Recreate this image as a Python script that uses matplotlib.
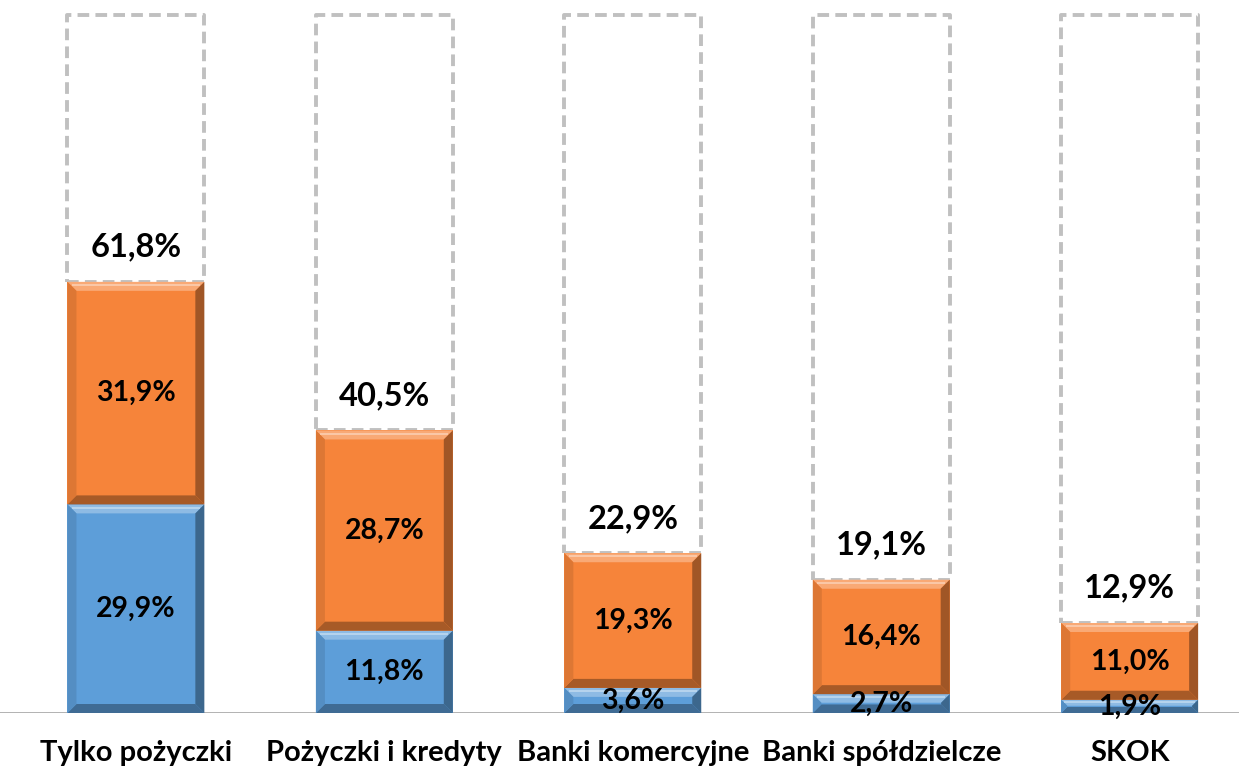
import matplotlib
matplotlib.use("Agg")
import matplotlib.pyplot as plt
from matplotlib.patches import Polygon
import numpy as np

categories = ["Tylko pożyczki", "Pożyczki i kredyty", "Banki komercyjne",
              "Banki spółdzielcze", "SKOK"]
blue_vals = [29.9, 11.8, 3.6, 2.7, 1.9]
orange_vals = [31.9, 28.7, 19.3, 16.4, 11.0]
totals = [61.8, 40.5, 22.9, 19.1, 12.9]

BLUE = "#5d9ed9"
ORANGE = "#f6843a"
FONT = ["Lato", "DejaVu Sans"]

plt.rcParams["font.family"] = FONT

fig = plt.figure(figsize=(12.39, 7.70), dpi=100)
ax = fig.add_axes([0, 1 - 713 / 770, 1, 713 / 770])
ax.set_xlim(-0.547, 4.44)
ax.set_ylim(0, 102.2)
ax.axis("off")

x = np.arange(len(categories))
width = 0.551

# dashed "remaining" box up to 100%
ax.bar(x, [100 - t for t in totals], width, bottom=totals, color="white",
       edgecolor="#c0c0c0", linestyle=(0, (3, 1.6)), linewidth=2.8,
       joinstyle="round", zorder=1)

blue_bars = ax.bar(x, blue_vals, width, color=BLUE, zorder=2)
orange_bars = ax.bar(x, orange_vals, width, bottom=blue_vals, color=ORANGE, zorder=2)

ax.axhline(0, color="#a6a6a6", linewidth=1.2, zorder=0)


def shade(c, f):
    rgb = np.array(matplotlib.colors.to_rgb(c))
    if f > 0:
        rgb = rgb + (1 - rgb) * f
    else:
        rgb = rgb * (1 + f)
    return tuple(np.clip(rgb, 0, 1))


# ── fake Excel bevel on every segment ────────────────────────────────────
fig.canvas.draw()
px_x = ax.transData.transform((1, 0))[0] - ax.transData.transform((0, 0))[0]
px_y = ax.transData.transform((0, 1))[1] - ax.transData.transform((0, 0))[1]
for bars, col in ((blue_bars, BLUE), (orange_bars, ORANGE)):
    for p in bars:
        bx, by = p.get_x(), p.get_y()
        bw, bh = p.get_width(), p.get_height()
        b = min(9, bh * px_y / 2.2)
        dx, dy = b / px_x, b / px_y
        top = [(bx, by + bh), (bx + bw, by + bh), (bx + bw - dx, by + bh - dy),
               (bx + dx, by + bh - dy)]
        bot = [(bx, by), (bx + bw, by), (bx + bw - dx, by + dy), (bx + dx, by + dy)]
        left = [(bx, by), (bx + dx, by + dy), (bx + dx, by + bh - dy), (bx, by + bh)]
        right = [(bx + bw, by), (bx + bw - dx, by + dy), (bx + bw - dx, by + bh - dy),
                 (bx + bw, by + bh)]
        ax.add_patch(Polygon(top, closed=True, color=shade(col, 0.3), lw=0, zorder=3))
        ax.add_patch(Polygon(bot, closed=True, color=shade(col, -0.32), lw=0, zorder=3))
        ax.add_patch(Polygon(left, closed=True, color=shade(col, -0.1), lw=0, zorder=3))
        ax.add_patch(Polygon(right, closed=True, color=shade(col, -0.35), lw=0, zorder=3))
        # thin highlight line on top
        ax.plot([bx + dx * 0.5, bx + bw - dx * 0.5], [by + bh - dy * 0.35] * 2,
                color=shade(col, 0.6), lw=1.2, zorder=3.5, solid_capstyle="butt")

# labels
for i in range(len(categories)):
    ax.text(x[i], blue_vals[i] / 2, f"{blue_vals[i]:.1f}%".replace(".", ","),
            ha="center", va="center", fontsize=20.5, fontweight="bold", zorder=5)
    ax.text(x[i], blue_vals[i] + orange_vals[i] / 2,
            f"{orange_vals[i]:.1f}%".replace(".", ","),
            ha="center", va="center", fontsize=20.5, fontweight="bold", zorder=5)
    ax.annotate(f"{totals[i]:.1f}%".replace(".", ","), (x[i], totals[i]),
                xytext=(0, 25), textcoords="offset points", ha="center",
                va="center", fontsize=23.5, fontweight="bold", zorder=5)
    ax.annotate(categories[i], (x[i], 0), xytext=(0, -29), textcoords="offset points",
                ha="center", va="center", fontsize=21, fontweight="bold",
                annotation_clip=False)

fig.savefig("out.png", dpi=100)
